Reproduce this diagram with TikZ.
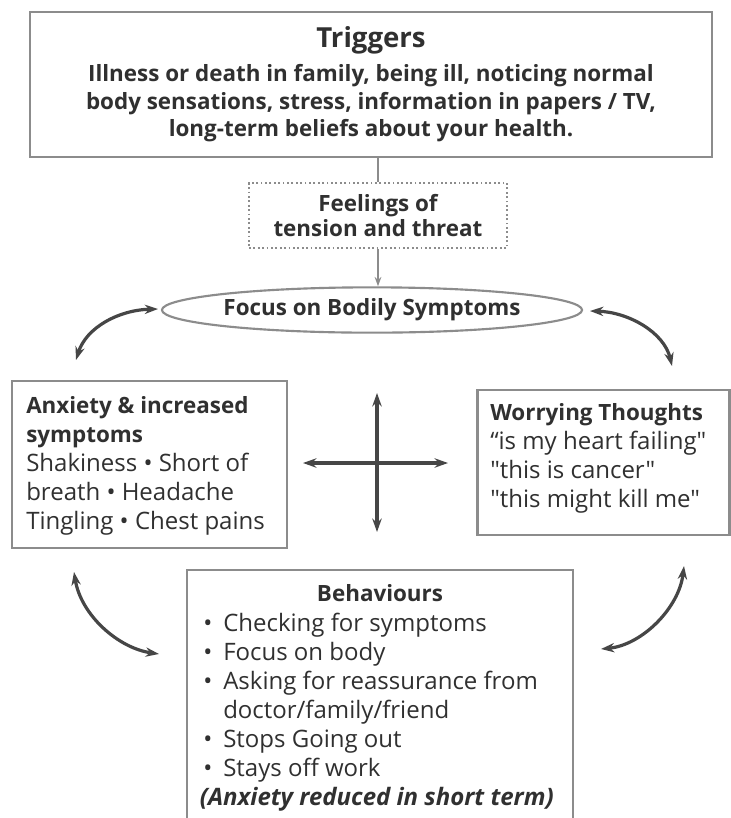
\documentclass[tikz,border=0pt]{standalone}
\usepackage{fontspec}
\setmainfont{Open Sans}
\newfontfamily\qfont{Open Sans}
\usetikzlibrary{arrows.meta,shapes.geometric,calc}
\definecolor{boxgray}{HTML}{8C8C8C}
\definecolor{ink}{HTML}{303030}
\definecolor{arr}{HTML}{464646}
\newcommand{\bul}{\makebox[15pt][l]{•}}
\newcommand{\hd}[1]{{\bfseries\fontsize{16.8}{21.75}\selectfont #1}}
\begin{document}
\begin{tikzpicture}[x=0.75pt,y=-0.75pt,
  frame/.style={draw=boxgray, line width=1.6pt, rectangle, inner sep=0pt},
  txt/.style={text=ink, inner sep=0pt, align=left, font=\fontsize{18}{21.75}\selectfont},
  dbl/.style={draw=arr, line width=2.4pt, {Stealth[length=10pt,width=7pt]}-{Stealth[length=10pt,width=7pt]}},
  thin/.style={draw=boxgray, line width=1.3pt}]
\useasboundingbox[fill=white] (0,0) rectangle (731,818);

% Triggers
\node[frame, minimum width=511.5pt, minimum height=108.75pt, align=center, text=ink,
  font=\bfseries\fontsize{16.8}{20.6}\selectfont] (trig) at (371,84.5)
  {{\fontsize{20.7}{22}\selectfont Triggers}\\[5pt]
   Illness or death in family, being ill, noticing normal\\
   body sensations, stress, information in papers / TV,\\
   long-term beliefs about your health.};

% Feelings
\node[draw=boxgray, dotted, line width=1.3pt, minimum width=193.5pt, minimum height=48.75pt,
  align=center, text=ink, inner sep=0pt, font=\bfseries\fontsize{16.8}{18.75}\selectfont] (feel) at (378,215.5)
  {Feelings of\\tension and threat};

% Ellipse
\node[ellipse, draw=boxgray, line width=1.6pt, minimum width=296pt, minimum height=34pt,
  inner sep=0pt, text=ink, font=\bfseries\fontsize{16.8}{18}\selectfont] (ell) at (372,310)
  {Focus on Bodily Symptoms};

\draw[thin] (trig.south -| feel.north) -- (feel.north);
\draw[thin, -{Stealth[length=7pt,width=5pt]}] (feel.south) -- (feel.south |- ell.north);

% Anxiety box
\node[frame, minimum width=206pt, minimum height=125pt] (anx) at (149.5,464.5) {};
\node[txt, anchor=north west] (anxtxt) at (26,396)
  {\hd{Anxiety \& increased}\\
   \hd{symptoms}\\
   Shakiness • Short of\\
   breath • Headache\\
   Tingling • Chest pains};

% Worrying box
\node[frame, minimum width=189pt, minimum height=109pt] (worry) at (603.5,462.5) {};
\node[txt, anchor=north west, font=\qfont\fontsize{18}{21.75}\selectfont] (worrytxt) at (490,403)
  {\hd{Worrying Thoughts}\\
   “is my heart failing"\\
   "this is cancer"\\
   "this might kill me"};

% Behaviours box
\node[frame, minimum width=289.5pt, minimum height=195pt] (beh) at (380,700) {};
\node[txt] (behtitle) at (380,593) {\hd{Behaviours}};
\node[txt, anchor=north west] (behtxt) at (203,613)
  {\bul Checking for symptoms\\
   \bul Focus on body\\
   \bul Asking for reassurance from\\
   \hspace*{15pt}doctor/family/friend\\
   \bul Stops Going out\\
   \bul Stays off work\\
   \hspace*{-2.5pt}\textbf{\textit{(Anxiety reduced in short term)}}};

% Cross
\coordinate (cN) at (377,393);
\coordinate (cS) at (377,532);
\coordinate (cW) at (303,463);
\coordinate (cE) at (448,463);
\draw[dbl] (cN) -- (cS);
\draw[dbl] (cW) -- (cE);

% Curved arrows
\coordinate (tlA) at (76,360);
\coordinate (tlB) at (158,309);
\coordinate (trA) at (590,311);
\coordinate (trB) at (672,366);
\coordinate (blA) at (74,572);
\coordinate (blB) at (159,654);
\coordinate (brA) at (684,566);
\coordinate (brB) at (601,649);
\draw[dbl] (tlA) .. controls (86,328) and (118,310) .. (tlB);
\draw[dbl] (trA) .. controls (628,312) and (664,332) .. (trB);
\draw[dbl] (blA) .. controls (81,615) and (118,648) .. (blB);
\draw[dbl] (brA) .. controls (679,608) and (642,645) .. (brB);
\end{tikzpicture}
\end{document}
